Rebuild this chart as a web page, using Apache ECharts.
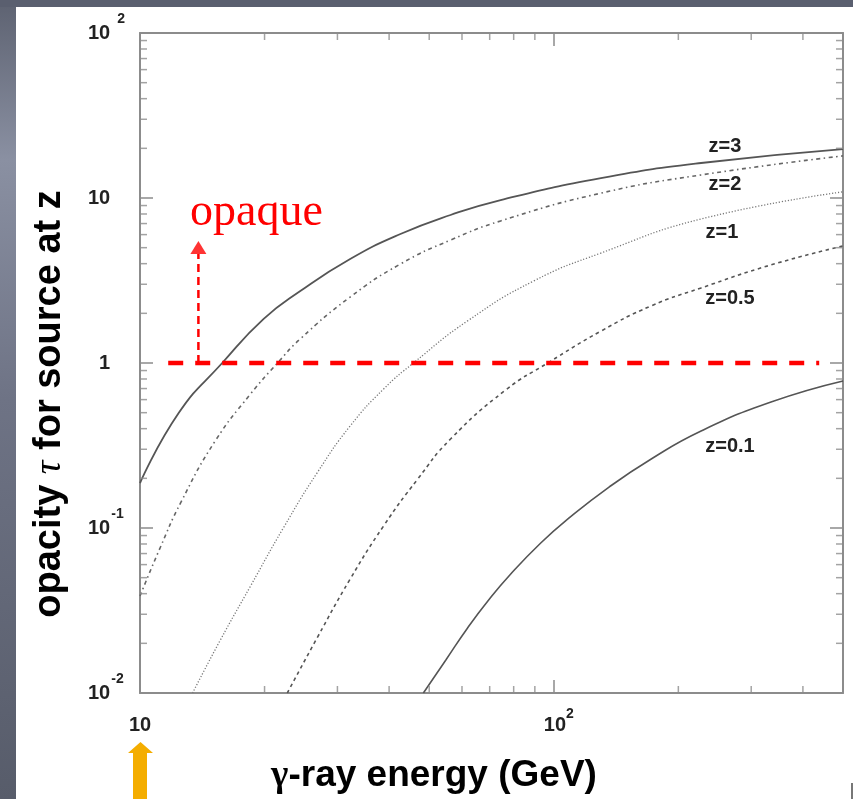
<!DOCTYPE html>
<html>
<head>
<meta charset="utf-8">
<title>opacity vs gamma-ray energy</title>
<script src="https://cdn.jsdelivr.net/npm/echarts@6/dist/echarts.min.js"></script>
<style>
  html, body { margin: 0; padding: 0; background: #ffffff; }
  #main { width: 853px; height: 799px; }
</style>
</head>
<body>
<div id="main"></div>
<script>
// 曲线数据 (GeV, tau)
var eZ3 = [10, 12.4, 15.8, 19.9, 24.4, 32.2, 42.6, 56.3, 74.4, 130, 227, 500];
var tauZ3 = [0.187, 0.497, 1.0, 1.85, 2.73, 4.27, 6.05, 7.89, 9.72, 13.2, 16.3, 19.8];

var eZ2 = [10, 11.18, 12.57, 15.2, 18.5, 21.5, 24.4, 32.2, 42.6, 56.3, 74.4, 130, 227, 500];
var tauZ2 = [0.0387, 0.0756, 0.144, 0.337, 0.649, 1.0, 1.40, 2.51, 3.98, 5.56, 7.26, 10.7, 13.8, 18.0];

var eZ1 = [13.4, 15.6, 18.5, 22.2, 26.8, 32.2, 38.8, 45.8, 61.9, 89.4, 130, 227, 500];
var tauZ1 = [0.01, 0.0207, 0.0445, 0.100, 0.216, 0.415, 0.696, 1.0, 1.80, 3.14, 4.64, 7.46, 10.9];

var eZ05 = [22.7, 26.8, 32.2, 38.8, 46.9, 56.3, 76.5, 96.7, 130, 172, 227, 335, 500];
var tauZ05 = [0.01, 0.0216, 0.049, 0.103, 0.198, 0.346, 0.686, 1.0, 1.56, 2.22, 2.85, 3.93, 5.12];

var eZ01 = [48.4, 54.8, 61.9, 69.6, 78.7, 93.0, 108, 136, 172, 227, 335, 500];
var tauZ01 = [0.01, 0.0158, 0.0248, 0.0366, 0.0526, 0.0811, 0.113, 0.177, 0.262, 0.387, 0.58, 0.778];

// opaque 标记
var opaqueLineE = [11.7, 438];
var opaqueTau = 1;
var arrowE = 13.84;
var arrowTau = [1, 4.58];
var arrowHeadTau = 5.01;

// 坐标轴范围和小刻度
var xMin = 10, xMax = 500;
var yMin = 0.01, yMax = 100;
var xMinorTicks = [20, 30, 40, 50, 60, 70, 80, 90, 200, 300, 400];
var yMinorTicks = [0.02, 0.03, 0.04, 0.05, 0.06, 0.07, 0.08, 0.09,
                   0.2, 0.3, 0.4, 0.5, 0.6, 0.7, 0.8, 0.9,
                   2, 3, 4, 5, 6, 7, 8, 9,
                   20, 30, 40, 50, 60, 70, 80, 90];

var axisGray = '#8c8c8c';
var sans = '"Liberation Sans", Arial, sans-serif';
var serif = '"Liberation Serif", "Times New Roman", serif';

var myChart = echarts.init(document.getElementById('main'), null, { renderer: 'canvas' });

function zip(es, ts) {
    return es.map(function (e, i) { return [e, ts[i]]; });
}

function curve(name, es, ts, type, width, color) {
    return {
        name: name,
        type: 'line',
        data: zip(es, ts),
        showSymbol: false,
        smooth: 0.5,
        silent: true,
        z: 3,
        lineStyle: { type: type, width: width, color: color }
    };
}

// 小刻度用 rect 符号画在轴上
function minorTicks(data, size, offset) {
    return {
        type: 'scatter',
        data: data,
        symbol: 'rect',
        symbolSize: size,
        symbolOffset: offset,
        itemStyle: { color: axisGray },
        silent: true,
        clip: false,
        z: 4
    };
}

function yLabel(v) {
    var p = Math.round(Math.log10(v));
    if (p === 0) return '{p1|1}';
    if (p === 1) return '{b|10}';
    if (p === 2) return '{b|10}{s2|2}';
    return '{b|10}{s|' + p + '}';
}

function xLabel(v) {
    var p = Math.round(Math.log10(v));
    if (Math.abs(v - Math.pow(10, p)) > 1e-6) return '';
    if (p === 1) return '{xb|10}';
    return '{xb2|10}{xs|' + p + '}';
}

var labelFont = { fontFamily: sans, fontWeight: 'bold', color: '#222' };

function axisCommon(extra) {
    var base = {
        type: 'log',
        logBase: 10,
        axisLine: { lineStyle: { color: axisGray, width: 2 } },
        axisTick: { inside: true, length: 13, lineStyle: { color: axisGray, width: 1.5 } },
        splitLine: { show: false },
        minorTick: { show: false }
    };
    return Object.assign(base, extra);
}

myChart.setOption({
    backgroundColor: '#ffffff',
    animation: false,
    grid: { left: 140, right: 10, top: 33, bottom: 106, outerBoundsMode: 'none' },
    xAxis: [
        axisCommon({
            min: xMin, max: xMax, position: 'bottom',
            axisLabel: {
                margin: 14,
                formatter: xLabel,
                rich: {
                    xb: Object.assign({ fontSize: 20, lineHeight: 36 }, labelFont),
                    xb2: Object.assign({ fontSize: 20, lineHeight: 36, padding: [0, 0, 0, 10] }, labelFont),
                    xs: Object.assign({ fontSize: 14, lineHeight: 14, verticalAlign: 'top' }, labelFont)
                }
            }
        }),
        axisCommon({ min: xMin, max: xMax, position: 'top', axisLabel: { show: false } })
    ],
    yAxis: [
        axisCommon({
            min: yMin, max: yMax, position: 'left',
            axisLabel: {
                margin: 52,
                align: 'left',
                formatter: yLabel,
                rich: {
                    b: Object.assign({ fontSize: 20, lineHeight: 42 }, labelFont),
                    p1: Object.assign({ fontSize: 20, lineHeight: 42, padding: [0, 0, 0, 11] }, labelFont),
                    s: Object.assign({ fontSize: 14, lineHeight: 14, verticalAlign: 'top', padding: [0, 0, 0, 1] }, labelFont),
                    s2: Object.assign({ fontSize: 14, lineHeight: 32, verticalAlign: 'top', padding: [0, 0, 0, 7] }, labelFont)
                }
            }
        }),
        axisCommon({ min: yMin, max: yMax, position: 'right', axisLabel: { show: false } })
    ],
    series: [
        curve('z=3', eZ3, tauZ3, 'solid', 1.8, '#555555'),
        curve('z=2', eZ2, tauZ2, [4, 3.5, 1.5, 3.5], 1.6, '#666666'),
        curve('z=1', eZ1, tauZ1, [1.2, 1.8], 1.3, '#777777'),
        curve('z=0.5', eZ05, tauZ05, [3.5, 3.5], 1.6, '#555555'),
        curve('z=0.1', eZ01, tauZ01, 'solid', 1.6, '#555555'),
        {
            name: 'opaque line',
            type: 'line',
            data: opaqueLineE.map(function (e) { return [e, opaqueTau]; }),
            showSymbol: false,
            silent: true,
            z: 5,
            lineStyle: { type: [15, 12], width: 4.5, color: '#ff0000' }
        },
        {
            name: 'opaque arrow',
            type: 'line',
            data: arrowTau.map(function (t) { return [arrowE, t]; }),
            showSymbol: false,
            silent: true,
            z: 5,
            lineStyle: { type: [8, 5], width: 2.5, color: '#ff0000' }
        },
        {
            name: 'arrow head',
            type: 'scatter',
            data: [[arrowE, arrowHeadTau]],
            symbol: 'triangle',
            symbolSize: [16, 13],
            itemStyle: { color: '#ff0000' },
            silent: true,
            clip: false,
            z: 5
        },
        minorTicks(xMinorTicks.map(function (v) { return [v, yMin]; }), [1.5, 7], [0, -3.5]),
        minorTicks(xMinorTicks.map(function (v) { return [v, yMax]; }), [1.5, 7], [0, 3.5]),
        minorTicks(yMinorTicks.map(function (v) { return [xMin, v]; }), [7, 1.5], [3.5, 0]),
        minorTicks(yMinorTicks.map(function (v) { return [xMax, v]; }), [7, 1.5], [-3.5, 0])
    ],
    graphic: [
        // 幻灯片边框
        {
            type: 'rect', shape: { x: 0, y: 0, width: 16, height: 799 },
            style: {
                fill: new echarts.graphic.LinearGradient(0, 0, 0, 1, [
                    { offset: 0, color: '#5d6271' },
                    { offset: 0.2, color: '#8a90a2' },
                    { offset: 0.5, color: '#6e7385' },
                    { offset: 1, color: '#575c6a' }
                ])
            }
        },
        { type: 'rect', shape: { x: 0, y: 0, width: 853, height: 7 }, style: { fill: '#5a5f6f' } },
        { type: 'rect', shape: { x: 851, y: 783, width: 2, height: 16 }, style: { fill: '#777777' } },
        // 橙色箭头
        {
            type: 'polygon',
            shape: { points: [[128, 753], [140.5, 742], [153, 753], [147, 753], [147, 799], [133, 799], [133, 753]] },
            style: { fill: '#f4ad00' }
        },
        // 文字
        {
            type: 'text', x: 190, y: 213,
            style: { text: 'opaque', font: '46px ' + serif, fill: '#ff0000', textAlign: 'left', textVerticalAlign: 'middle' }
        },
        { type: 'text', x: 725, y: 146, style: { text: 'z=3', font: 'bold 20px ' + sans, fill: '#222', textAlign: 'center', textVerticalAlign: 'middle' } },
        { type: 'text', x: 725, y: 184, style: { text: 'z=2', font: 'bold 20px ' + sans, fill: '#222', textAlign: 'center', textVerticalAlign: 'middle' } },
        { type: 'text', x: 722, y: 232, style: { text: 'z=1', font: 'bold 20px ' + sans, fill: '#222', textAlign: 'center', textVerticalAlign: 'middle' } },
        { type: 'text', x: 730, y: 298, style: { text: 'z=0.5', font: 'bold 20px ' + sans, fill: '#222', textAlign: 'center', textVerticalAlign: 'middle' } },
        { type: 'text', x: 730, y: 446, style: { text: 'z=0.1', font: 'bold 20px ' + sans, fill: '#222', textAlign: 'center', textVerticalAlign: 'middle' } },
        {
            type: 'text', x: 50, y: 404, rotation: Math.PI / 2,
            style: {
                text: '{a|opacity }{t|τ}{a| for source at z}',
                textAlign: 'center', textVerticalAlign: 'middle',
                rich: {
                    a: { fontFamily: sans, fontWeight: 'bold', fontSize: 38, color: '#000' },
                    t: { fontFamily: serif, fontStyle: 'italic', fontSize: 38, color: '#000' }
                }
            }
        },
        {
            type: 'text', x: 434, y: 776,
            style: {
                text: '{g|γ}{a|-ray energy (GeV)}',
                textAlign: 'center', textVerticalAlign: 'middle',
                rich: {
                    a: { fontFamily: sans, fontWeight: 'bold', fontSize: 37, color: '#000' },
                    g: { fontFamily: serif, fontWeight: 'bold', fontSize: 37, color: '#000' }
                }
            }
        }
    ]
});
</script>
</body>
</html>
